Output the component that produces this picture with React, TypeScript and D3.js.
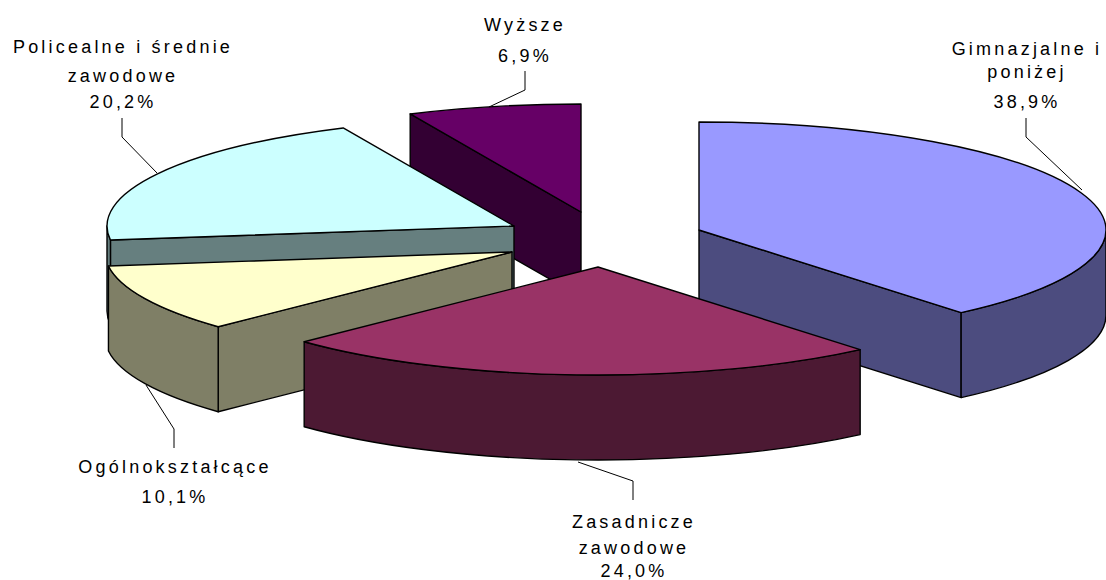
import React from "react";
import * as d3 from "d3";

const categories = ["Gimnazjalne i poniżej", "Zasadnicze zawodowe", "Ogólnokształcące", "Policealne i średnie zawodowe", "Wyższe"];
const values = [38.9, 24.0, 10.1, 20.2, 6.9];
const valueLabels = ["38,9%", "24,0%", "10,1%", "20,2%", "6,9%"];
const labelLines = [["Gimnazjalne i", "poniżej"], ["Zasadnicze", "zawodowe"], ["Ogólnokształcące"], ["Policealne i średnie", "zawodowe"], ["Wyższe"]];
const topColors = ["#9999FF", "#993366", "#FFFFCC", "#CCFFFF", "#660066"];
const sideColors = ["#4C4C7F", "#4C1933", "#7F7F66", "#667F7F", "#330033"];
// layout (exploded centres, in px)
const centresX = [699, 598, 512, 514, 581];
const centresY = [230, 267, 252, 226, 212];
const drawOrder = [4, 3, 2, 0, 1];
const labelX = [1027, 634, 175, 123, 525];
const labelBase = [[55, 78, 108], [528, 554, 577], [473, 503], [53, 82, 108], [31, 62]];
const leaders = [
  [[1026, 118], [1026, 137], [1082, 190]],
  [[633, 500], [633, 481], [578, 462]],
  [[174, 448], [174, 429], [146, 385]],
  [[122, 118], [122, 137], [157, 173]],
  [[525, 71], [525, 90], [489, 107]],
];

const RX = 407, RY = 108, DEPTH = 85;
const pt = (i: number, a: number, dy = 0): [number, number] => [
  centresX[i] + RX * Math.sin(a),
  centresY[i] - RY * Math.cos(a) + dy,
];
const arcTo = (p: [number, number], sweep: number, large = 0) => `A${RX},${RY} 0 ${large} ${sweep} ${p[0]},${p[1]}`;

export default function App() {
  const arcs = d3.pie<number>().sort(null).value((d) => d)(values);
  const line = d3.line();
  return (
    <svg width={1106} height={580} style={{ position: "absolute", left: 0, top: 0, background: "#fff" }}>
      {drawOrder.map((i) => {
        const { startAngle: a0, endAngle: a1 } = arcs[i];
        const c: [number, number] = [centresX[i], centresY[i]];
        const cd: [number, number] = [c[0], c[1] + DEPTH];
        const faces: string[] = [];
        if (Math.sin(a0) < -1e-6) faces.push(line([c, pt(i, a0), pt(i, a0, DEPTH), cd])! + "Z");
        if (Math.sin(a1) > 1e-6) faces.push(line([c, pt(i, a1), pt(i, a1, DEPTH), cd])! + "Z");
        const s0 = Math.max(a0, Math.PI / 2), s1 = Math.min(a1, (3 * Math.PI) / 2);
        const outer = s1 > s0
          ? `M${pt(i, s0)}${arcTo(pt(i, s1), 1)}L${pt(i, s1, DEPTH)}${arcTo(pt(i, s0, DEPTH), 0)}Z`
          : null;
        const top = `M${c}L${pt(i, a0)}${arcTo(pt(i, a1), 1, a1 - a0 > Math.PI ? 1 : 0)}Z`;
        return (
          <g key={categories[i]} stroke="#000" strokeWidth={1.4} strokeLinejoin="round">
            {faces.map((f, k) => <path key={k} d={f} fill={sideColors[i]} />)}
            {outer && <path d={outer} fill={sideColors[i]} />}
            <path d={top} fill={topColors[i]} />
          </g>
        );
      })}
      {leaders.map((l, i) => (
        <path key={i} d={line(l as [number, number][])!} fill="none" stroke="#000" strokeWidth={1} />
      ))}
      {categories.map((c, i) => (
        <text key={c} textAnchor="middle" fontFamily="'Liberation Sans', Arial, sans-serif" fontSize={18} letterSpacing={3.2} fill="#000">
          {[...labelLines[i], valueLabels[i]].map((t, k) => (
            <tspan key={k} x={labelX[i]} y={labelBase[i][k]}>{t}</tspan>
          ))}
        </text>
      ))}
    </svg>
  );
}
